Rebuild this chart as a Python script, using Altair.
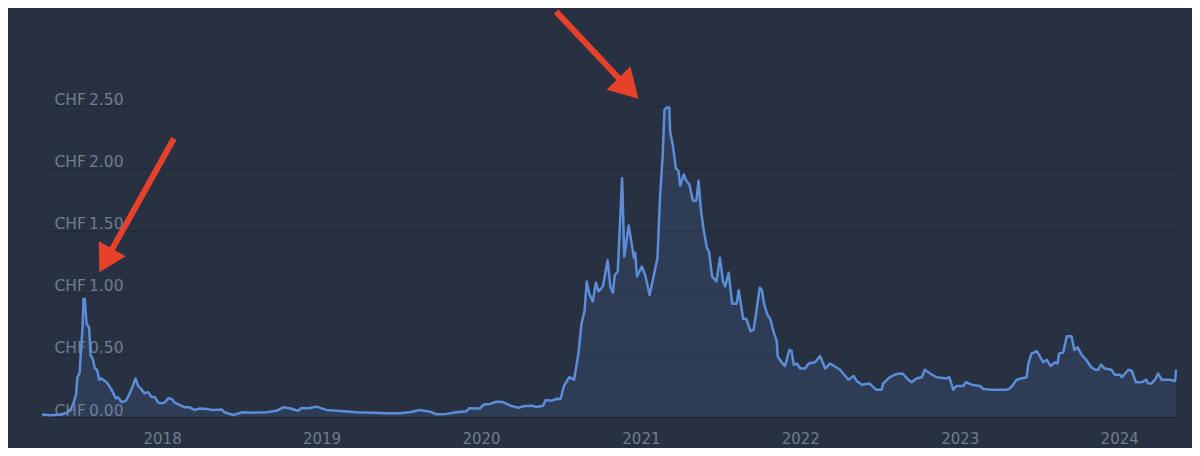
import altair as alt
import pandas as pd

# ---- price series (CHF) ----
dates = [
    "2017-04-01", "2017-04-20", "2017-05-12", "2017-05-25", "2017-06-04", "2017-06-12",
    "2017-06-18", "2017-06-21", "2017-06-26", "2017-06-29", "2017-07-03", "2017-07-05",
    "2017-07-08", "2017-07-12", "2017-07-18", "2017-07-21", "2017-07-26", "2017-07-31",
    "2017-08-05", "2017-08-10", "2017-08-15", "2017-08-27", "2017-09-07", "2017-09-17",
    "2017-09-22", "2017-09-30", "2017-10-10", "2017-10-19", "2017-10-27", "2017-11-01",
    "2017-11-07", "2017-11-15", "2017-11-22", "2017-11-30", "2017-12-08", "2017-12-15",
    "2017-12-23", "2018-01-01", "2018-01-08", "2018-01-15", "2018-01-23", "2018-01-30",
    "2018-02-11", "2018-02-22", "2018-03-05", "2018-03-17", "2018-03-28", "2018-04-13",
    "2018-04-27", "2018-05-17", "2018-05-24", "2018-06-12", "2018-07-05", "2018-07-28",
    "2018-08-28", "2018-09-20", "2018-10-05", "2018-10-20", "2018-11-08", "2018-11-16",
    "2018-12-01", "2018-12-20", "2019-01-12", "2019-02-12", "2019-03-22", "2019-04-29",
    "2019-05-30", "2019-06-29", "2019-07-22", "2019-08-14", "2019-09-06", "2019-09-21",
    "2019-10-14", "2019-11-05", "2019-11-28", "2019-12-05", "2019-12-29", "2020-01-07",
    "2020-01-21", "2020-02-05", "2020-02-20", "2020-03-11", "2020-03-26", "2020-04-10",
    "2020-04-29", "2020-05-07", "2020-05-22", "2020-05-28", "2020-06-10", "2020-06-22",
    "2020-07-01", "2020-07-09", "2020-07-21", "2020-08-01", "2020-08-11", "2020-08-18",
    "2020-08-25", "2020-08-30", "2020-09-05", "2020-09-13", "2020-09-20", "2020-09-26",
    "2020-10-06", "2020-10-17", "2020-10-23", "2020-10-29", "2020-11-02", "2020-11-09",
    "2020-11-19", "2020-11-24", "2020-12-04", "2020-12-12", "2020-12-16", "2020-12-19",
    "2020-12-23", "2021-01-03", "2021-01-11", "2021-01-21", "2021-01-30", "2021-02-08",
    "2021-02-14", "2021-02-20", "2021-02-24", "2021-03-01", "2021-03-07", "2021-03-09",
    "2021-03-15", "2021-03-22", "2021-03-28", "2021-04-01", "2021-04-09", "2021-04-15",
    "2021-04-22", "2021-04-30", "2021-05-08", "2021-05-13", "2021-05-18", "2021-05-24",
    "2021-06-01", "2021-06-06", "2021-06-13", "2021-06-23", "2021-07-01", "2021-07-08",
    "2021-07-13", "2021-07-21", "2021-07-29", "2021-08-08", "2021-08-13", "2021-08-23",
    "2021-08-30", "2021-09-09", "2021-09-16", "2021-09-24", "2021-09-30", "2021-10-05",
    "2021-10-10", "2021-10-18", "2021-10-24", "2021-11-02", "2021-11-08", "2021-11-10",
    "2021-11-19", "2021-11-27", "2021-12-07", "2021-12-12", "2021-12-17", "2021-12-24",
    "2022-01-01", "2022-01-12", "2022-01-20", "2022-02-04", "2022-02-15", "2022-02-27",
    "2022-03-10", "2022-04-02", "2022-04-21", "2022-05-03", "2022-05-10", "2022-05-22",
    "2022-06-08", "2022-06-23", "2022-07-06", "2022-07-10", "2022-07-25", "2022-08-09",
    "2022-08-23", "2022-09-05", "2022-09-13", "2022-09-24", "2022-10-06", "2022-10-13",
    "2022-10-25", "2022-11-09", "2022-12-02", "2022-12-08", "2022-12-17", "2022-12-25",
    "2023-01-09", "2023-01-15", "2023-01-28", "2023-02-16", "2023-02-24", "2023-03-15",
    "2023-04-18", "2023-04-26", "2023-05-01", "2023-05-11", "2023-05-22", "2023-06-03",
    "2023-06-07", "2023-06-14", "2023-06-26", "2023-07-03", "2023-07-11", "2023-07-19",
    "2023-07-28", "2023-08-07", "2023-08-13", "2023-08-16", "2023-08-26", "2023-09-03",
    "2023-09-14", "2023-09-20", "2023-09-28", "2023-10-07", "2023-10-15", "2023-10-29",
    "2023-11-07", "2023-11-14", "2023-11-20", "2023-11-29", "2023-12-14", "2023-12-22",
    "2024-01-03", "2024-01-07", "2024-01-22", "2024-01-30", "2024-02-08", "2024-02-22",
    "2024-03-03", "2024-03-07", "2024-03-15", "2024-03-23", "2024-03-30", "2024-04-07",
    "2024-04-26", "2024-05-08", "2024-05-10",
]
prices = [
    0.02, 0.015, 0.02, 0.03, 0.05, 0.11,
    0.18, 0.32, 0.35, 0.52, 0.73, 0.95,
    0.95, 0.75, 0.72, 0.50, 0.47, 0.39,
    0.38, 0.30, 0.31, 0.28, 0.22, 0.15,
    0.16, 0.12, 0.13, 0.19, 0.26, 0.31,
    0.25, 0.22, 0.19, 0.20, 0.16, 0.16,
    0.115, 0.11, 0.12, 0.15, 0.145, 0.115,
    0.096, 0.078, 0.078, 0.056, 0.068, 0.065,
    0.057, 0.06, 0.038, 0.016, 0.038, 0.035,
    0.038, 0.05, 0.078, 0.07, 0.05, 0.073,
    0.07, 0.083, 0.057, 0.049, 0.038, 0.035,
    0.03, 0.03, 0.038, 0.057, 0.043, 0.022,
    0.025, 0.038, 0.046, 0.07, 0.068, 0.10,
    0.105, 0.123, 0.12, 0.088, 0.075, 0.088,
    0.09, 0.08, 0.09, 0.137, 0.13, 0.147,
    0.145, 0.25, 0.32, 0.30, 0.51, 0.75,
    0.85, 1.09, 0.99, 0.93, 1.08, 1.01,
    1.05, 1.26, 1.05, 1.00, 1.14, 1.17,
    1.92, 1.29, 1.54, 1.37, 1.28, 1.32,
    1.13, 1.21, 1.14, 0.98, 1.13, 1.28,
    1.78, 2.11, 2.47, 2.49, 2.49, 2.29,
    2.19, 2.00, 1.98, 1.86, 1.95, 1.90,
    1.87, 1.74, 1.74, 1.90, 1.68, 1.52,
    1.36, 1.33, 1.13, 1.09, 1.28, 1.09,
    1.05, 1.16, 0.91, 0.91, 1.02, 0.79,
    0.79, 0.69, 0.70, 0.89, 1.04, 1.02,
    0.91, 0.82, 0.79, 0.67, 0.61, 0.49,
    0.44, 0.41, 0.54, 0.53, 0.42, 0.43,
    0.39, 0.39, 0.43, 0.44, 0.49, 0.39,
    0.43, 0.38, 0.30, 0.33, 0.29, 0.26,
    0.27, 0.22, 0.22, 0.27, 0.32, 0.345,
    0.35, 0.30, 0.28, 0.31, 0.32, 0.38,
    0.35, 0.32, 0.31, 0.32, 0.22, 0.25,
    0.25, 0.28, 0.26, 0.25, 0.225, 0.22,
    0.22, 0.23, 0.25, 0.30, 0.31, 0.32,
    0.43, 0.51, 0.53, 0.49, 0.44, 0.46,
    0.41, 0.44, 0.43, 0.51, 0.52, 0.65,
    0.65, 0.54, 0.56, 0.50, 0.47, 0.40,
    0.38, 0.38, 0.42, 0.39, 0.38, 0.34,
    0.34, 0.32, 0.38, 0.37, 0.28, 0.28,
    0.30, 0.27, 0.27, 0.30, 0.35, 0.30,
    0.30, 0.29, 0.38,
]

# ---- axis ticks ----
y_ticks = [0.0, 0.5, 1.0, 1.5, 2.0, 2.5, 3.0]
year_ticks = [2018, 2019, 2020, 2021, 2022, 2023, 2024]

# ---- annotation arrows (in data coordinates) ----
arrow_start_dates = ["2018-01-28", "2020-06-21"]
arrow_start_values = [2.24, 3.26]
arrow_head_dates = ["2017-08-30", "2020-11-26"]
arrow_head_values = [1.29, 2.67]
arrow_angles = [209, 136]
arrow_sizes = [950, 1100]

BG = "#283142"
GRID = "#212938"
LABEL = "#707c90"
LINE = "#5b8dd9"
RED = "#e8412a"

df = pd.DataFrame({"date": pd.to_datetime(dates), "price": prices})
arrows = pd.DataFrame({
    "x0": pd.to_datetime(arrow_start_dates),
    "y0": arrow_start_values,
    "x1": pd.to_datetime(arrow_head_dates),
    "y1": arrow_head_values,
    "angle": arrow_angles,
    "size": arrow_sizes,
})

x_scale = alt.Scale(domain=[alt.DateTime(year=2017, month=4, date=1),
                            alt.DateTime(year=2024, month=5, date=10)])
y_scale = alt.Scale(domain=[0, 3], nice=False, zero=True)

x_axis = alt.Axis(
    values=[alt.DateTime(year=y, month=1, date=1) for y in year_ticks],
    format="%Y", title=None, grid=False, ticks=False, tickSize=0, domain=False,
    labelColor=LABEL, labelFontSize=15, labelFont="DejaVu Sans",
    labelPadding=14, labelFlush=False, labelOverlap=False,
)
y_axis = alt.Axis(
    values=y_ticks, title=None, grid=True, gridColor=GRID, gridWidth=1,
    ticks=False, tickSize=0, domain=False,
    labelExpr="datum.value >= 3 ? '' : 'CHF\u2009' + format(datum.value, '.2f')",
    labelAlign="left", labelBaseline="alphabetic", labelPadding=-12, labelOffset=-2,
    labelColor=LABEL, labelFontSize=15.5, labelFont="DejaVu Sans",
    labelFlush=False, labelOverlap=False,
)


def X(field):
    return alt.X(field, type="temporal", scale=x_scale, axis=x_axis)


def Y(field):
    return alt.Y(field, type="quantitative", scale=y_scale, axis=y_axis)


base = alt.Chart(df).encode(x=X("date"), y=Y("price"))
area = base.mark_area(color=LINE, opacity=0.13)
line = base.mark_line(color=LINE, strokeWidth=2.5, strokeJoin="round")

shafts = alt.Chart(arrows).mark_rule(color=RED, strokeWidth=6, strokeCap="butt").encode(
    x=X("x0"), y=Y("y0"), x2="x1", y2="y1"
)
heads = alt.Chart(arrows).mark_point(shape="triangle", filled=True, color=RED, opacity=1).encode(
    x=X("x1"), y=Y("y1"),
    angle=alt.Angle("angle:Q", scale=None),
    size=alt.Size("size:Q", scale=None, legend=None),
)

chart = alt.layer(area, line, shafts, heads).properties(
    width=1134, height=373,
    autosize=alt.AutoSizeParams(type="none"),
    padding={"left": 34, "top": 36, "right": 16, "bottom": 31},
    background=BG,
).configure_view(stroke=None)

chart.save("out.html", embed_options={"renderer": "svg", "actions": False})
